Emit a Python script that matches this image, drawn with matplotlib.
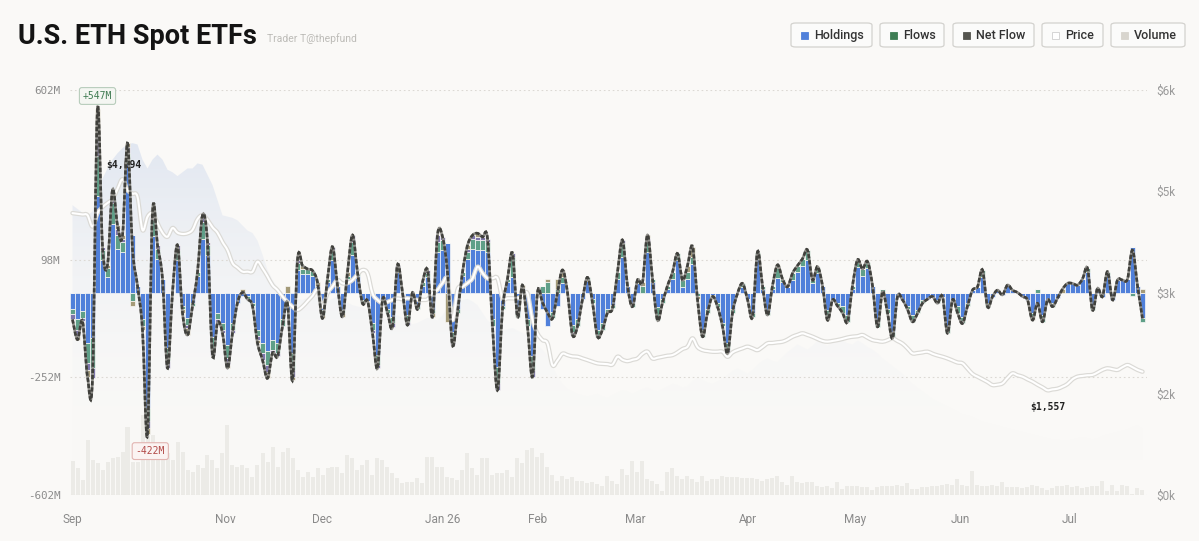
import numpy as np
import matplotlib
matplotlib.use("Agg")
import matplotlib.pyplot as plt
from matplotlib.path import Path
from matplotlib.patches import PathPatch, FancyBboxPatch, Rectangle
import matplotlib.patheffects as pe

# ---------------- data ----------------
net_flow = [
    -80, -140, -85, -250, -255, 547, 136, 82, 305, 200,
    170, 444, 130, 20, -110, -422, 237, 140, 40, -225,
    0, 141, -60, -126, -40, 60, 230, 150, -186, -90,
    -120, -225, -120, -30, 0, -20, -40, -150, -200, -255,
    -180, -190, -100, -33, -260, 97, 80, 70, 65, 30,
    -77, 40, 136, 20, -72, 60, 171, 60, -32, -25,
    -120, -225, -22, -60, -102, 82, 0, -97, 0, -50,
    30, 67, -72, 171, 166, 60, -156, -60, 60, 140,
    170, 176, 165, 160, -100, -290, -50, 40, 116, -72,
    22, -100, -250, 0, -30, -60, -77, 0, 67, 0,
    -126, -100, -20, 45, -30, -131, -110, -60, -47, 60,
    156, 20, -42, 37, 30, 171, 40, -82, -30, 20,
    60, 116, 37, 80, 136, -20, -131, -60, -12, -42,
    -100, -181, -60, -3, 27, -20, -72, 121, 20, -67,
    20, 82, 40, 17, 57, 80, 100, 126, 37, 77,
    20, -82, -22, -40, -60, -87, 20, 97, 70, 92,
    20, -102, 2, -60, -136, -12, -22, -50, -87, -62,
    -32, -20, -12, -32, -12, -121, -22, -60, -92, -40,
    7, 17, 67, -42, -12, 7, -7, 22, 7, 0,
    -12, -22, -82, -32, -87, -22, -42, -17, 10, 27,
    27, 22, 40, 72, -52, 12, -12, 62, -22, 37,
    37, 40, 126, 20, -77,
]

feth_flow = [
    -15, -30, -20, -60, -90, 120, 30, 25, 60, 40,
    30, 30, -25, 0, -20, -40, 50, 30, 0, -40,
    0, 30, -10, -20, -10, 10, 50, 30, -40, -20,
    -20, -40, -20, 0, 0, -10, -10, -20, -30, -40,
    -30, -30, -20, 0, -50, 20, 15, 15, 15, 0,
    -15, 10, 30, 0, -10, 10, 40, 10, -10, 0,
    -20, -30, 0, -10, -20, 10, 0, -20, 0, -10,
    10, 10, -10, 30, 30, 0, -30, -10, 10, 20,
    30, 30, 30, 30, -20, -50, -10, 10, 60, -10,
    0, -20, -40, 0, 20, 30, -20, 10, 20, 0,
    -20, -20, 0, 10, -10, -20, -20, -10, -10, 20,
    40, 0, -10, 10, 20, 30, 10, -40, -10, 10,
    20, 20, 20, 20, 20, -10, -20, -10, -5, -10,
    -10, -20, -10, 0, 10, 0, -10, 20, 10, -10,
    10, 30, 10, 0, 20, 20, 20, 30, 10, 20,
    0, -20, 0, -10, -20, -20, 10, 20, 20, 20,
    0, -20, 10, -10, -20, 0, 0, -10, -20, -10,
    -10, 0, 0, -10, 0, -20, 0, -20, -20, -10,
    0, 0, 20, -10, 0, 0, 0, 0, 0, 0,
    0, 0, -10, 10, -20, 0, -10, 0, 0, 0,
    0, 0, 0, 10, -10, 0, 0, 10, 0, 0,
    0, 0, -10, 0, -10,
]

# day index -> flow ($M), only days where the fund shows a visible segment
ethw_flow = {
    0: -15, 1: -20, 2: -10, 3: -20, 4: -30, 5: 60, 6: 10, 8: 40, 9: 20,
    10: 10, 11: 20, 15: -20, 16: 20, 17: 10, 19: -20, 21: 15, 23: -10,
    26: 20, 27: 10, 28: -15, 29: -10, 30: -10, 31: -20, 32: -10, 37: -10,
    38: -20, 39: -20, 40: -10, 41: -10, 44: -20, 45: 10, 52: 10, 56: 20,
    60: -10, 61: -10, 64: -10, 65: 10, 67: -10, 71: 10, 73: 20, 74: 10,
    76: -10, 79: 10, 80: 10, 81: 10, 82: 10, 83: 10, 85: -20, 88: 10,
    92: -20, 100: -10, 110: 10, 115: 10, 131: -10,
}
ethe_flow = {
    1: -10, 3: -20, 5: 80, 7: 10, 9: 10, 10: 10, 11: 10, 12: -15, 14: -10,
    15: -20, 22: -10, 23: -20, 31: -10, 34: 10, 37: -10, 39: -20, 43: 20,
    44: -10, 46: 10, 49: 10, 50: -10, 54: -10, 55: 10, 72: -10, 75: -87,
    79: 10, 81: 10, 90: 10, 95: 10, 97: 30, 98: 20, 114: 10, 115: 10,
    123: 20, 124: 30, 125: -10, 141: 10, 151: -10, 192: -10, 198: 10, 214: 10,
}

price = [
    4190, 4180, 4170, 4160, 3990, 4190, 4280, 4340, 4400, 4550,
    4694, 4533, 4480, 4433, 3938, 4136, 4190, 4042, 3900, 3839,
    3968, 3900, 3880, 3890, 3940, 4100, 4160, 4090, 3980, 3900,
    3760, 3640, 3448, 3380, 3320, 3320, 3320, 3467, 3370, 3250,
    3120, 3047, 2950, 2870, 2799, 2750, 2800, 2880, 2960, 3047,
    2799, 3000, 3100, 3195, 3146, 3150, 3195, 3280, 3344, 3295,
    2997, 2900, 2850, 2870, 2900, 2920, 2910, 2924, 2910, 2900,
    2900, 2910, 2997, 3050, 3150, 3195, 2600, 3050, 3096, 3150,
    3220, 3393, 3300, 3220, 3220, 3220, 2924, 2924, 2924, 2924,
    2960, 2997, 2600, 2400, 2303, 2254, 1930, 2000, 2100, 2080,
    2060, 2055, 2030, 2006, 1980, 1957, 1950, 1945, 1940, 2055,
    2010, 1990, 2010, 2030, 2100, 2130, 2030, 2040, 2055, 2070,
    2080, 2120, 2170, 2204, 2328, 2200, 2154, 2140, 2130, 2130,
    2130, 2055, 2120, 2154, 2180, 2204, 2180, 2154, 2200, 2254,
    2260, 2270, 2279, 2310, 2353, 2380, 2403, 2380, 2353, 2320,
    2290, 2279, 2290, 2303, 2320, 2340, 2353, 2360, 2378, 2340,
    2303, 2290, 2279, 2300, 2330, 2290, 2250, 2180, 2106, 2110,
    2120, 2130, 2100, 2075, 2055, 2030, 2000, 1970, 1957, 1880,
    1800, 1759, 1720, 1680, 1635, 1640, 1660, 1740, 1808, 1780,
    1759, 1720, 1685, 1640, 1600, 1557, 1570, 1580, 1610, 1650,
    1720, 1759, 1770, 1780, 1785, 1820, 1860, 1883, 1870, 1860,
    1900, 1932, 1900, 1860, 1833,
]

holdings_bn = [
    22.9, 22.6, 22.3, 22.1, 22.4, 24.1, 25.0, 25.8, 26.5, 27.0,
    27.4, 27.7, 27.8, 27.7, 26.5, 25.8, 26.5, 26.9, 26.5, 25.7,
    25.5, 25.2, 25.5, 25.8, 25.8, 26.2, 26.1, 25.3, 24.5, 23.3,
    22.1, 22.0, 21.9, 21.7, 21.3, 20.9, 20.7, 20.1, 19.0, 17.8,
    17.0, 16.4, 16.0, 15.8, 15.6, 15.5, 15.4, 15.6, 15.8, 15.6,
    15.4, 15.3, 15.5, 15.7, 15.5, 15.2, 15.0, 14.9, 14.8, 14.6,
    14.4, 14.2, 14.0, 13.8, 14.0, 14.2, 14.0, 13.7, 13.5, 13.6,
    13.8, 14.0, 13.9, 13.8, 14.2, 14.8, 15.0, 15.2, 15.4, 15.5,
    15.3, 15.0, 14.4, 13.8, 13.5, 13.2, 13.0, 13.1, 13.2, 13.0,
    12.8, 12.6, 12.2, 11.8, 11.5, 11.0, 10.2, 9.4, 8.8, 8.4,
    8.2, 8.0, 7.9, 7.8, 7.9, 8.0, 7.8, 7.7, 7.9, 8.1,
    8.3, 8.2, 8.0, 8.2, 8.4, 8.5, 8.3, 8.2, 8.4, 8.6,
    8.8, 8.7, 8.5, 8.6, 9.0, 9.3, 9.1, 8.9, 8.8, 9.0,
    9.2, 9.5, 9.8, 10.0, 9.8, 9.6, 9.9, 10.3, 10.6, 10.8,
    10.6, 10.5, 10.9, 11.3, 11.6, 11.9, 11.7, 11.5, 11.8, 12.2,
    12.0, 11.8, 12.1, 12.4, 12.2, 12.0, 11.9, 12.2, 12.0, 11.7,
    11.5, 11.2, 10.8, 10.5, 10.2, 9.9, 9.6, 9.2, 8.8, 8.5,
    8.2, 7.9, 7.6, 7.4, 7.2, 7.0, 6.8, 6.6, 6.4, 6.3,
    6.2, 6.0, 5.8, 5.7, 5.6, 5.5, 5.4, 5.3, 5.2, 5.1,
    5.0, 4.9, 4.8, 4.7, 4.6, 4.5, 4.4, 4.4, 4.3, 4.3,
    4.4, 4.5, 4.6, 4.5, 4.4, 4.5, 4.7, 4.8, 4.9, 5.0,
    5.1, 5.2, 5.4, 5.5, 5.3,
]

volume_100m = [
    34, 27, 15, 55, 35, 32, 25, 33, 37, 38,
    43, 68, 33, 33, 80, 68, 60, 38, 37, 42,
    35, 53, 43, 25, 23, 30, 27, 40, 35, 27,
    42, 70, 30, 28, 30, 27, 18, 30, 42, 33,
    48, 28, 43, 47, 37, 25, 18, 23, 18, 27,
    20, 27, 28, 28, 22, 40, 37, 25, 30, 35,
    20, 37, 35, 28, 22, 17, 12, 13, 13, 17,
    12, 38, 38, 28, 28, 18, 17, 15, 25, 42,
    27, 20, 37, 37, 20, 22, 22, 25, 18, 37,
    32, 45, 47, 38, 42, 28,
    20, 14, 19, 16, 18, 14, 14, 12, 13, 11,
    9, 19, 14, 11, 26, 20, 34, 23, 34, 16,
    14, 11, 4, 23, 27, 19, 16, 19, 16, 13,
    19, 14, 16, 16, 19, 18, 18, 18, 17, 17,
    17, 16, 14, 16, 17, 19, 13, 10, 19, 13,
    12, 13, 13, 9, 8, 9, 7, 13, 6, 9,
    9, 9, 8, 8, 5, 8, 9, 9, 9, 10,
    9, 12, 6, 6, 8, 8, 9, 9, 10, 11,
    10, 16, 10, 9, 24, 10, 9, 9, 10, 9,
    13, 8, 8, 8, 7, 8, 10, 9, 7, 5,
    7, 9, 9, 10, 8, 9, 7, 8, 9, 9,
    14, 4, 10, 4, 10, 9, 1, 7, 5,
]

month_labels = ["Sep", "Nov", "Dec", "Jan 26", "Feb", "Mar", "Apr", "May", "Jun", "Jul"]
month_pos = [0, 30.5, 50, 74, 93, 112.5, 135, 156.5, 177.5, 199.5]
flow_ticks = [602, 98, -252, -602]
flow_tick_labels = ["602M", "98M", "-252M", "-602M"]
price_ticks = [0, 1505, 3010, 4515, 6020]
price_tick_labels = ["$0k", "$2k", "$3k", "$5k", "$6k"]

# ---------------- derived ----------------
N = len(net_flow)
x = np.arange(N)
net = np.array(net_flow, float)
feth = np.array(feth_flow, float)
ethw = np.zeros(N)
for k, v in ethw_flow.items():
    ethw[k] = v
ethe = np.zeros(N)
for k, v in ethe_flow.items():
    ethe[k] = v
etha = net - feth - ethw - ethe

BG = "#faf9f7"
C_BLUE = "#5080da"
C_TEAL = "#5f9f88"
C_PURP = "#7d76ab"
C_TAN = "#a49a78"

fig = plt.figure(figsize=(11.99, 5.41), dpi=100, facecolor=BG)
W, H = 1199, 541
rect = [70 / W, (H - 495) / H, (1147 - 70) / W, 405 / H]
XLIM = (-0.5, 214.9)

# holdings area (gradient, fading towards the bottom)
ax_hold = fig.add_axes(rect, zorder=0)
ax_hold.set_facecolor(BG)
ax_hold.set_xlim(*XLIM)
ax_hold.set_ylim(0, 32)
ax_hold.axis("off")
poly = ax_hold.fill_between(x, 0, holdings_bn, color="none", lw=0)
hmax = max(holdings_bn)
grad = np.zeros((256, 1, 4))
grad[:, 0, 0] = 0.87
grad[:, 0, 1] = 0.895
grad[:, 0, 2] = 0.945
grad[:, 0, 3] = 0.85 * np.linspace(1.0, 0.0, 256) ** 2.3
im = ax_hold.imshow(grad, extent=[XLIM[0], XLIM[1], 0, hmax],
                    aspect="auto", origin="upper", interpolation="bilinear")
im.set_clip_path(poly.get_paths()[0], ax_hold.transData)

# volume bars
ax_vol = fig.add_axes(rect, zorder=1)
ax_vol.patch.set_visible(False)
ax_vol.set_xlim(*XLIM)
ax_vol.set_ylim(0, 405)
ax_vol.axis("off")
ax_vol.bar(x, volume_100m, width=0.8, color="#ecebe7", lw=0)

# flows (main)
ax = fig.add_axes(rect, zorder=2)
ax.patch.set_visible(False)
ax.set_xlim(*XLIM)
ax.set_ylim(-602, 602)
for t in flow_ticks:
    ax.axhline(t, color="#dcd9d4", lw=0.8, ls=(0, (1.5, 2.5)), zorder=0)

pos_base = np.zeros(N)
neg_base = np.zeros(N)
for vals, col in [(etha, C_BLUE), (feth, C_TEAL), (ethw, C_PURP), (ethe, C_TAN)]:
    bottoms = np.where(vals >= 0, pos_base, neg_base)
    ax.bar(x, vals, bottom=bottoms, width=0.9, color=col,
           edgecolor=BG, linewidth=0.5, zorder=2)
    pos_base += np.clip(vals, 0, None)
    neg_base += np.clip(vals, None, 0)

for s in ax.spines.values():
    s.set_visible(False)
ax.set_yticks(flow_ticks, flow_tick_labels)
ax.set_xticks(month_pos, month_labels)
ax.tick_params(axis="y", length=0, pad=7, labelsize=7.8, labelcolor="#8c8c8c")
ax.tick_params(axis="x", length=0, pad=13, labelsize=8.5, labelcolor="#8a8a8a")
for lab in ax.get_yticklabels():
    lab.set_family("DejaVu Sans Mono")
for lab in ax.get_xticklabels():
    lab.set_family(["Roboto", "DejaVu Sans"])


def smooth_path(xs, ys, tension=1 / 6):
    pts = np.column_stack([np.asarray(xs, float), np.asarray(ys, float)])
    ext = np.vstack([pts[0], pts, pts[-1]])
    verts = [pts[0]]
    codes = [Path.MOVETO]
    for k in range(len(pts) - 1):
        p0, p1, p2, p3 = ext[k], ext[k + 1], ext[k + 2], ext[k + 3]
        verts += [p1 + (p2 - p0) * tension, p2 - (p3 - p1) * tension, p2]
        codes += [Path.CURVE4] * 3
    return Path(verts, codes)


# price line
ax_price = ax.twinx()
ax_price.set_zorder(3)
ax_price.patch.set_visible(False)
ax_price.set_ylim(0, 6020)
ax_price.set_xlim(*XLIM)
for s in ax_price.spines.values():
    s.set_visible(False)
ax_price.set_yticks(price_ticks, price_tick_labels)
ax_price.tick_params(axis="y", length=0, pad=7, labelsize=8.5, labelcolor="#9a9a9a")
for lab in ax_price.get_yticklabels():
    lab.set_family(["Roboto", "DejaVu Sans"])
pp = PathPatch(smooth_path(x, price), fill=False, ec="white", lw=1.5, zorder=3,
               capstyle="round", joinstyle="round")
pp.set_path_effects([pe.Stroke(linewidth=3.2, foreground="#dbdad6"), pe.Normal()])
ax_price.add_patch(pp)

imx_p = int(np.argmax(price))
imn_p = int(np.argmin(price))
ax_price.annotate(f"${price[imx_p]:,.0f}", (imx_p, price[imx_p]), xytext=(1, 10),
                  textcoords="offset points", ha="center", va="center",
                  fontsize=7, weight="bold", family="DejaVu Sans Mono", color="#222222")
ax_price.annotate(f"${price[imn_p]:,.0f}", (imn_p, price[imn_p]), xytext=(0, -12),
                  textcoords="offset points", ha="center", va="center",
                  fontsize=7, weight="bold", family="DejaVu Sans Mono", color="#222222")

# net flow dashed smooth line
ax_net = ax.twinx()
ax_net.set_zorder(4)
ax_net.patch.set_visible(False)
ax_net.set_ylim(-602, 602)
ax_net.set_xlim(*XLIM)
ax_net.set_yticks([])
for s in ax_net.spines.values():
    s.set_visible(False)
npath = smooth_path(x, net)
ax_net.add_patch(PathPatch(npath, fill=False, ec="#8e8d88", lw=1.9, zorder=4))
ax_net.add_patch(PathPatch(npath, fill=False, ec="#40403c", lw=1.9, zorder=5,
                           linestyle=(0, (1.6, 0.75)), capstyle="butt"))

imx = int(np.argmax(net))
imn = int(np.argmin(net))
ax_net.annotate(f"+{net[imx]:.0f}M", (imx, net[imx]), xytext=(0, 9),
                textcoords="offset points", ha="center", va="center",
                fontsize=7, family="DejaVu Sans Mono", color="#3f7b52", zorder=6,
                bbox=dict(boxstyle="round,pad=0.35,rounding_size=0.25",
                          fc="#f4f6f2", ec="#b8cdbc", lw=0.8))
ax_net.annotate(f"{net[imn]:.0f}M", (imn, net[imn]), xytext=(2, -12),
                textcoords="offset points", ha="center", va="center",
                fontsize=7, family="DejaVu Sans Mono", color="#b24a48", zorder=6,
                bbox=dict(boxstyle="round,pad=0.35,rounding_size=0.25",
                          fc="#fbf3f2", ec="#e2b5b2", lw=0.8))

# title
fig.text(18 / W, 1 - 44 / H, "U.S. ETH Spot ETFs", fontsize=19.5, weight="bold",
         family=["Roboto", "DejaVu Sans"], color="#141414",
         va="baseline", ha="left")
fig.text(267 / W, 1 - 42 / H, "Trader T@thepfund", fontsize=7.5,
         family=["Roboto", "DejaVu Sans"], color="#bdbcb8",
         va="baseline", ha="left")

# legend chips
legend_items = [("Holdings", C_BLUE, 791, 872), ("Flows", "#3e7d54", 880, 944),
                ("Net Flow", "#55554f", 953, 1034), ("Price", "white", 1042, 1103),
                ("Volume", "#d8d5ce", 1111, 1185)]
y0, y1 = 23, 47
for name, col, xa, xb in legend_items:
    fig.add_artist(FancyBboxPatch((xa / W, 1 - y1 / H), (xb - xa) / W, (y1 - y0) / H,
                                  boxstyle="round,pad=0,rounding_size=0.004",
                                  transform=fig.transFigure, fc="#fbfbfa", ec="#d3d2ce",
                                  lw=0.9))
    ec = "#cfcfcf" if col == "white" else col
    fig.add_artist(Rectangle(((xa + 10) / W, 1 - 39 / H), 7 / W, 7 / H,
                             transform=fig.transFigure, fc=col, ec=ec, lw=0.6))
    fig.text((xa + 23) / W, 1 - 35.5 / H, name, fontsize=9, weight="medium",
             family=["Roboto", "DejaVu Sans"], color="#333333", va="center", ha="left")

fig.savefig("out.png", dpi=100, facecolor=BG)
